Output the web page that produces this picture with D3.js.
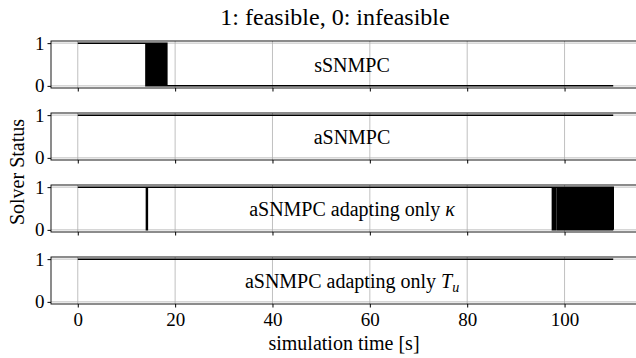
<!DOCTYPE html>
<meta charset="utf-8">
<style>
  body {
      margin: 0;
      padding: 0;
      background: #fff;
      overflow: hidden;
  }
</style>
<body>
<script src="https://cdn.jsdelivr.net/npm/d3@7"></script>
<div id="chart"></div>
<script>
// solver status, 1 = feasible, 0 = infeasible, as [time, status] step points
var sSNMPC = [
    [0, 1], [14.0, 0], [14.2, 1], [14.4, 0], [14.6, 1], [14.8, 0], [15.0, 1],
    [15.2, 0], [15.4, 1], [15.6, 0], [15.8, 1], [16.0, 0], [16.2, 1], [16.4, 0],
    [16.6, 1], [16.8, 0], [17.0, 1], [17.2, 0], [17.4, 1], [17.6, 0], [17.8, 1],
    [18.0, 0], [18.2, 1], [18.3, 0], [110, 0]
];

var aSNMPC = [[0, 1], [110, 1]];

var aSNMPC_kappa = [
    [0, 1], [14.1, 0], [14.3, 1], [97.5, 0], [97.75, 1], [98.0, 0], [98.25, 1],
    [98.4, 1], [98.6, 0], [98.85, 1], [99.1, 0], [99.35, 1], [99.6, 0], [99.85, 1],
    [100.1, 0], [100.35, 1], [100.6, 0], [100.85, 1], [101.1, 0], [101.35, 1],
    [101.6, 0], [101.85, 1], [102.1, 0], [102.35, 1], [102.6, 0], [102.85, 1],
    [103.1, 0], [103.35, 1], [103.6, 0], [103.85, 1], [104.1, 0], [104.35, 1],
    [104.6, 0], [104.85, 1], [105.1, 0], [105.35, 1], [105.6, 0], [105.85, 1],
    [106.1, 0], [106.35, 1], [106.6, 0], [106.85, 1], [107.1, 0], [107.35, 1],
    [107.6, 0], [107.85, 1], [108.1, 0], [108.35, 1], [108.6, 0], [108.85, 1],
    [109.1, 0], [109.35, 1], [109.6, 0], [109.85, 1], [110, 0]
];

var aSNMPC_Tu = [[0, 1], [110, 1]];

var series = [sSNMPC, aSNMPC, aSNMPC_kappa, aSNMPC_Tu];
var labels = [
    [["sSNMPC", ""]],
    [["aSNMPC", ""]],
    [["aSNMPC adapting only ", ""], ["\u03ba", "i"]],
    [["aSNMPC adapting only ", ""], ["T", "i"], ["u", "sub"]]
];
var xTicks = [0, 20, 40, 60, 80, 100];
var yTicks = [0, 1];

var FONT = "Liberation Serif, DejaVu Serif, serif";

var width = 636,
    height = 358,
    margin = {left: 51, right: -4},
    panelTop = [41, 113, 185, 257],
    panelH = 47;

var svg = d3.select("#chart").append("svg")
    .attr("width", width)
    .attr("height", height)
    .attr("font-family", FONT);

var x = d3.scaleLinear()
    .domain([-5.5, 115.5])
    .range([margin.left, width - margin.right]);

series.forEach(function(data, i) {
    var top = panelTop[i];
    var y = d3.scaleLinear()
        .domain([-0.05, 1.05])
        .range([top + panelH, top]);

    var g = svg.append("g");

    // grid
    var grid = g.append("g")
        .attr("stroke", "#b0b0b0")
        .attr("stroke-width", 0.8);

    grid.selectAll("line.gx")
        .data(xTicks)
        .enter().append("line")
        .attr("class", "gx")
        .attr("x1", function(d) { return x(d); })
        .attr("x2", function(d) { return x(d); })
        .attr("y1", top)
        .attr("y2", top + panelH);

    grid.selectAll("line.gy")
        .data(yTicks)
        .enter().append("line")
        .attr("class", "gy")
        .attr("x1", x.range()[0])
        .attr("x2", x.range()[1])
        .attr("y1", function(d) { return y(d); })
        .attr("y2", function(d) { return y(d); });

    var line = d3.line()
        .curve(d3.curveStepAfter)
        .x(function(d) { return x(d[0]); })
        .y(function(d) { return y(d[1]); });

    g.append("path")
        .datum(data)
        .attr("fill", "none")
        .attr("stroke", "#000")
        .attr("stroke-width", 1.5)
        .attr("d", line);

    // frame
    g.append("rect")
        .attr("x", x.range()[0])
        .attr("y", top)
        .attr("width", x.range()[1] - x.range()[0])
        .attr("height", panelH)
        .attr("fill", "none")
        .attr("stroke", "#000")
        .attr("stroke-width", 0.9);

    g.append("g")
        .attr("transform", "translate(" + x.range()[0] + ",0)")
        .call(d3.axisLeft(y).tickValues(yTicks).tickSize(3.5).tickPadding(3).tickFormat(d3.format("d")))
        .attr("font-family", FONT)
        .attr("font-size", 19)
        .call(function(a) { a.select(".domain").remove(); });

    var xa = d3.axisBottom(x).tickValues(xTicks).tickSize(3.5).tickPadding(5);
    if (i < series.length - 1) xa.tickFormat("");
    g.append("g")
        .attr("transform", "translate(0," + (top + panelH) + ")")
        .call(xa)
        .attr("font-family", FONT)
        .attr("font-size", 19)
        .call(function(a) { a.select(".domain").remove(); });

    var t = g.append("text")
        .attr("x", 352)
        .attr("y", top + panelH / 2)
        .attr("dy", "0.35em")
        .attr("text-anchor", "middle")
        .attr("font-size", 20);
    labels[i].forEach(function(p) {
        var ts = t.append("tspan").text(p[0]);
        if (p[1] == "i") ts.attr("font-style", "italic");
        if (p[1] == "sub") ts.attr("font-style", "italic").attr("font-size", 14).attr("dy", "0.3em");
    });
});

svg.append("text")
    .attr("x", 335)
    .attr("y", 25)
    .attr("text-anchor", "middle")
    .attr("font-size", 24)
    .text("1: feasible, 0: infeasible");

svg.append("text")
    .attr("x", 344)
    .attr("y", 350)
    .attr("text-anchor", "middle")
    .attr("font-size", 20)
    .text("simulation time [s]");

svg.append("text")
    .attr("transform", "translate(24,172) rotate(-90)")
    .attr("text-anchor", "middle")
    .attr("font-size", 20)
    .text("Solver Status");
</script>
</body>
